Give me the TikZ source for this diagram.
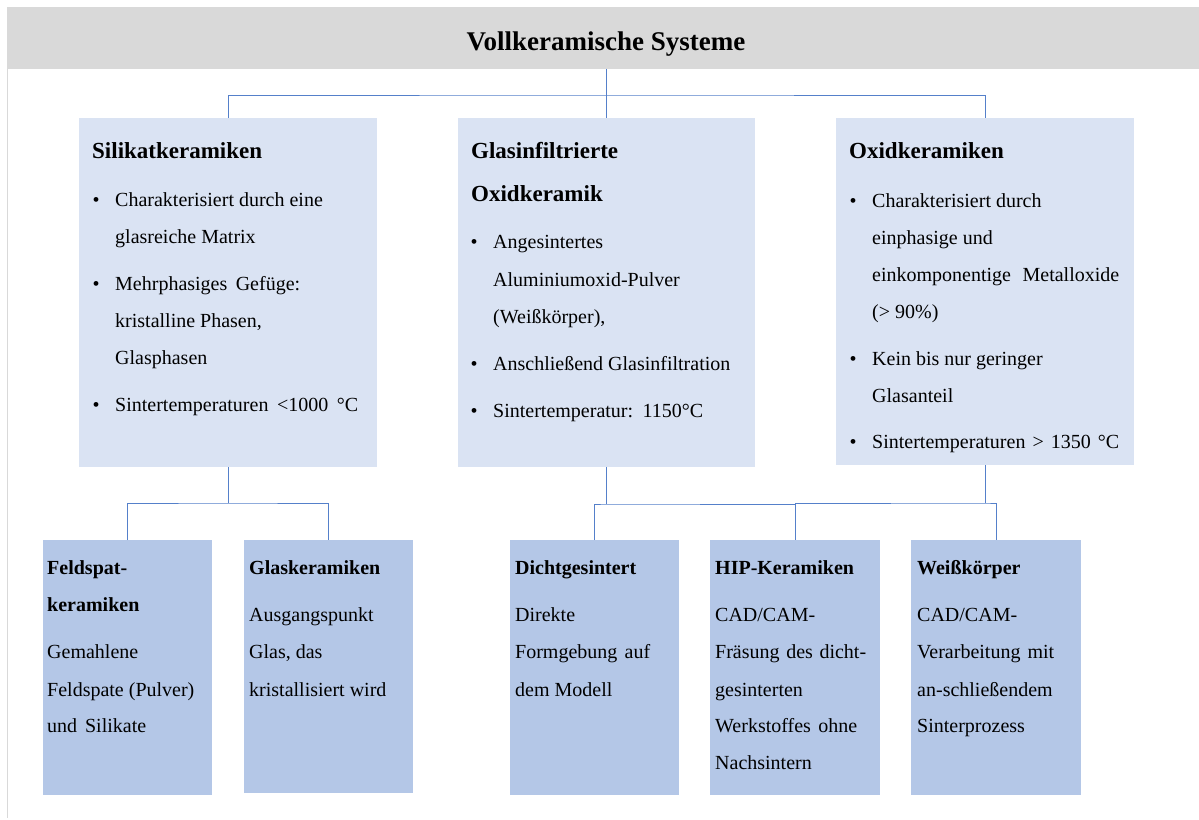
\documentclass[tikz,border=0pt]{standalone}
\usepackage{fontspec}
\setmainfont{Liberation Serif}[Ligatures=NoCommon]
\definecolor{bandgray}{HTML}{D9D9D9}
\definecolor{lightbox}{HTML}{DAE3F3}
\definecolor{darkbox}{HTML}{B4C7E7}
\definecolor{connblue}{HTML}{5580CA}
\newcommand\JL[2]{\makebox[#1pt][s]{#2}}
\newcommand\TLine[4]{\node[txt] (#1) at (#2,#3) {#4};}
\newcommand\BLine[3]{\node[bul] (#1) at (#2,#3) {•};}
\tikzset{
  boxbase/.style={rectangle, draw=none, anchor=north west, inner sep=0pt, outer sep=0pt},
  topbox/.style={boxbase, fill=lightbox},
  botbox/.style={boxbase, fill=darkbox},
  conn/.style={draw=connblue, line width=1pt},
  txt/.style={anchor=base west, inner sep=0pt, font=\fontsize{20}{37}\selectfont},
  bul/.style={anchor=base, inner sep=0pt, font=\fontsize{20}{37}\selectfont},
  hdr/.style={anchor=base west, inner sep=0pt, font=\bfseries\fontsize{23}{30}\selectfont},
  bhdr/.style={anchor=base west, inner sep=0pt, font=\bfseries\fontsize{20}{30}\selectfont},
}
\begin{document}
\begin{tikzpicture}[x=1pt, y=-1pt]
\useasboundingbox (0,0) rectangle (1199,819);
% frame line on the left and title band
\draw[bandgray, line width=1.5pt] (7.5,7) -- (7.5,818);
\node[boxbase, fill=bandgray, minimum width=1191pt, minimum height=62pt] (band) at (8,7) {};
\node[anchor=base, inner sep=0pt, font=\bfseries\fontsize{27}{30}\selectfont] (title) at (606,50) {Vollkeramische Systeme};

% top boxes
\node[topbox, minimum width=298pt, minimum height=349pt] (box1) at (79,118) {};
\node[topbox, minimum width=297pt, minimum height=349pt] (box2) at (458,118) {};
\node[topbox, minimum width=298pt, minimum height=347pt] (box3) at (836,118) {};

% bottom boxes
\node[botbox, minimum width=169pt, minimum height=255pt] (feld) at (43,540) {};
\node[botbox, minimum width=169pt, minimum height=253pt] (glas) at (244,540) {};
\node[botbox, minimum width=169pt, minimum height=255pt] (dicht) at (510,540) {};
\node[botbox, minimum width=170pt, minimum height=255pt] (hip) at (710,540) {};
\node[botbox, minimum width=170pt, minimum height=255pt] (weiss) at (911,540) {};

% connectors
\coordinate (j0) at (box2.north |- 0,95);
\draw[conn] (box2.north |- band.south) -- (box2.north);
\draw[conn] (box1.north) |- (j0) -| (box3.north);
\coordinate (j1) at (box1.south |- 0,503);
\draw[conn] (box1.south) -- (j1);
\draw[conn] (feld.north) |- (j1) -| (glas.north);
\coordinate (j2) at (box2.south |- 0,504);
\draw[conn] (box2.south) -- (j2);
\draw[conn] (dicht.north) |- (j2) -| (hip.north);
\coordinate (j3) at (box3.south |- 0,503);
\draw[conn] (box3.south) -- (j3);
\draw[conn] (hip.north |- j3) -- (j3) -| (weiss.north);

% box 1 text
\node[hdr] (h1) at (92,158) {Silikatkeramiken};
\BLine{b1a}{96}{206}
\TLine{t1a}{115}{206}{Charakterisiert durch eine}
\TLine{t1b}{115}{243}{glasreiche Matrix}
\BLine{b1b}{96}{290}
\TLine{t1c}{115}{290}{\JL{185}{Mehrphasiges Gefüge:}}
\TLine{t1d}{115}{327}{kristalline Phasen,}
\TLine{t1e}{115}{364}{Glasphasen}
\BLine{b1c}{96}{411}
\TLine{t1f}{115}{411}{\JL{243}{Sintertemperaturen <1000 °C}}

% box 2 text
\node[hdr] (h2a) at (471,158) {Glasinfiltrierte};
\node[hdr] (h2b) at (471,201) {Oxidkeramik};
\BLine{b2a}{474}{248}
\TLine{t2a}{493}{248}{Angesintertes}
\TLine{t2b}{493}{286}{Aluminiumoxid-Pulver}
\TLine{t2c}{493}{323}{(Weißkörper),}
\BLine{b2b}{474}{370}
\TLine{t2d}{493}{370}{Anschließend Glasinfiltration}
\BLine{b2c}{474}{417}
\TLine{t2e}{493}{417}{\JL{210}{Sintertemperatur: 1150°C}}

% box 3 text
\node[hdr] (h3) at (849,158) {Oxidkeramiken};
\BLine{b3a}{853}{207}
\TLine{t3a}{872}{207}{Charakterisiert durch}
\TLine{t3b}{872}{244}{einphasige und}
\TLine{t3c}{872}{281}{\JL{247}{einkomponentige Metalloxide}}
\TLine{t3d}{872}{318}{(> 90\%)}
\BLine{b3b}{853}{365}
\TLine{t3e}{872}{365}{Kein bis nur geringer}
\TLine{t3f}{872}{402}{Glasanteil}
\BLine{b3c}{853}{448}
\TLine{t3g}{872}{448}{\JL{247}{Sintertemperaturen > 1350 °C}}

% Feldspatkeramiken
\node[bhdr] (h4a) at (47,574) {Feldspat-};
\node[bhdr] (h4b) at (47,611) {keramiken};
\TLine{t4a}{47}{658}{Gemahlene}
\TLine{t4b}{47}{696}{Feldspate (Pulver)}
\TLine{t4c}{47}{732}{\JL{99}{und Silikate}}

% Glaskeramiken
\node[bhdr] (h5) at (249,574) {Glaskeramiken};
\TLine{t5a}{249}{621}{Ausgangspunkt}
\TLine{t5b}{249}{658}{Glas, das}
\TLine{t5c}{249}{696}{kristallisiert wird}

% Dichtgesintert
\node[bhdr] (h6) at (515,574) {Dichtgesintert};
\TLine{t6a}{515}{621}{Direkte}
\TLine{t6b}{515}{658}{\JL{135}{Formgebung auf}}
\TLine{t6c}{515}{696}{dem Modell}

% HIP-Keramiken
\node[bhdr] (h7) at (715,574) {HIP-Keramiken};
\TLine{t7a}{715}{621}{CAD/CAM-}
\TLine{t7b}{715}{658}{\JL{151}{Fräsung des dicht-}}
\TLine{t7c}{715}{696}{gesinterten}
\TLine{t7d}{715}{732}{\JL{142}{Werkstoffes ohne}}
\TLine{t7e}{715}{769}{Nachsintern}

% Weisskoerper
\node[bhdr] (h8) at (917,574) {Weißkörper};
\TLine{t8a}{917}{621}{CAD/CAM-}
\TLine{t8b}{917}{658}{\JL{137}{Verarbeitung mit}}
\TLine{t8c}{917}{696}{an-schließendem}
\TLine{t8d}{917}{732}{Sinterprozess}
\end{tikzpicture}
\end{document}
